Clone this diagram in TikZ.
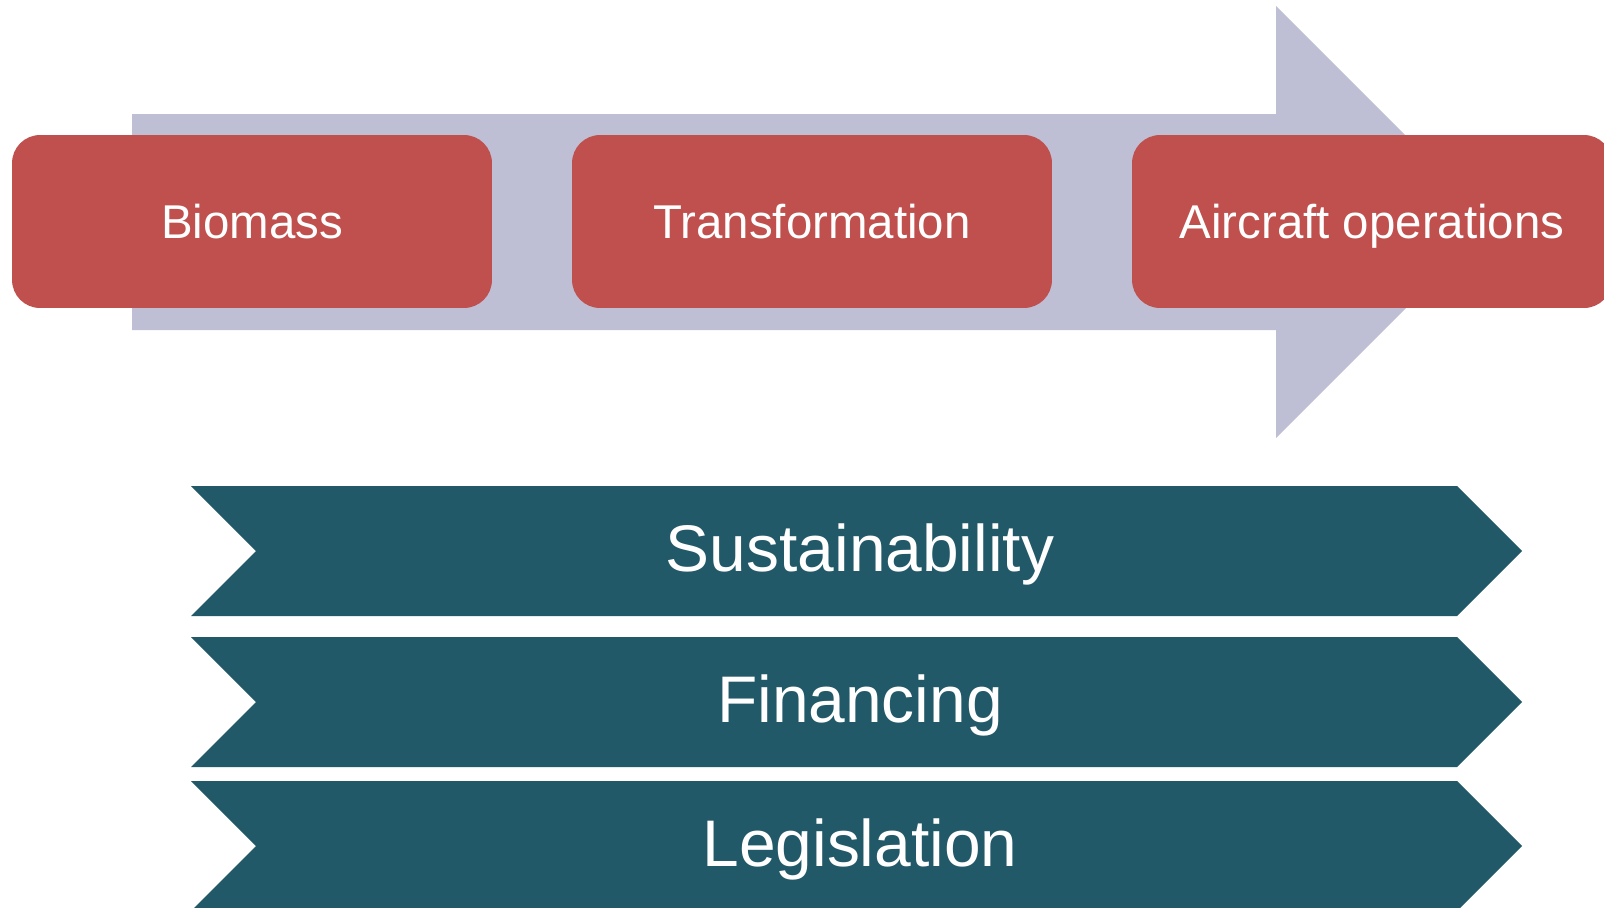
\documentclass[tikz,border=0pt]{standalone}
\usepackage{fontspec}
\setmainfont{Liberation Sans}
\usepackage{tikz}
\usetikzlibrary{positioning}

\definecolor{flowgrey}{RGB}{190,191,213}
\definecolor{stepred}{RGB}{192,80,77}
\definecolor{chevteal}{RGB}{34,89,104}

\tikzset{
  stepbox/.style={fill=stepred, rounded corners=0.56cm, minimum width=9.6cm,
    minimum height=3.46cm, text=white, font=\fontsize{27}{32}\selectfont,
    text height=19.3pt, text depth=0pt},
  chevshape/.style={fill=chevteal},
  chevtext/.style={text=white, font=\fontsize{37.5}{44}\selectfont,
    text height=26.85pt, text depth=0pt}
}

\begin{document}
\begin{tikzpicture}[x=0.02cm, y=-0.02cm]
\useasboundingbox (0,0) rectangle (1604,907);
\clip (0,0) rectangle (1604,907);

% big process arrow behind the steps
\fill[flowgrey] (132,114) -- (1276,114) -- (1276,6) -- (1492,222)
  -- (1276,438) -- (1276,330) -- (132,330) -- cycle;

\node[stepbox] (bio) at (252,221.5) {Biomass};
\node[stepbox] (trans) at (812,221.5) {Transformation};
\node[stepbox] (air) at (1372,221.5) {Aircraft operations};

% chevrons
\foreach \t/\txt/\nm in {486/Sustainability/sus, 637/Financing/fin, 781/Legislation/leg}{
  \fill[chevshape] (191,\t) -- (1457,\t) -- (1522,{\t+65}) -- (1457,{\t+130})
    -- (191,{\t+130}) -- (256,{\t+65}) -- cycle;
  \node[chevtext] (\nm) at (860,{\t+62}) {\txt};
}
\end{tikzpicture}
\end{document}
